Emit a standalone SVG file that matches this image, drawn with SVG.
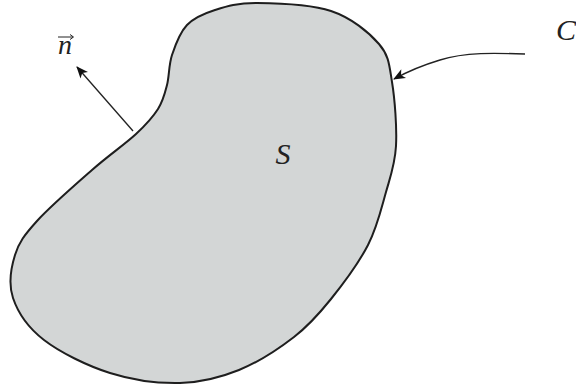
<svg xmlns="http://www.w3.org/2000/svg" width="576" height="385" viewBox="0 0 576 385">
<style>
.lbl{font-family:"Liberation Serif","DejaVu Serif",serif;font-style:italic;fill:#222;}
.conn{fill:none;stroke:#222;stroke-width:1.4;}
</style>
<defs>
<marker id="ah" viewBox="-12 -6 14 12" markerWidth="14" markerHeight="12" refX="0" refY="0" orient="auto" markerUnits="userSpaceOnUse">
<path d="M1,0 L-11,-5 L-8,0 L-11,5 Z" fill="#111"/>
</marker>
</defs>
<rect width="576" height="385" fill="#fff"/>
<g id="region-S">
<path d="M257,3 C276.3,3.2 310.7,4.2 331,11 C351.3,17.8 368.8,32.2 379,44 C389.2,55.8 389.2,65 392,82 C394.8,99 397,127.7 396,146 C395,164.3 390.7,175.5 386,192 C381.3,208.5 377.2,227.2 368,245 C358.8,262.8 343.3,283.7 331,299 C318.7,314.3 309.3,325.2 294,337 C278.7,348.8 258,362.3 239,370 C220,377.7 201.5,382.5 180,383 C158.5,383.5 132.7,380.2 110,373 C87.3,365.8 60.2,352.5 44,340 C27.8,327.5 17.8,312.2 13,298 C8.2,283.8 11,267.8 15,255 C19,242.2 24.2,235.2 37,221 C49.8,206.8 75.5,184.5 92,170 C108.5,155.5 125,144.2 136,134 C147,123.8 152.8,117.2 158,109 C163.2,100.8 164.7,94 167,85 C169.3,76 168.7,65 172,55 C175.3,45 179.8,32.5 187,25 C194.2,17.5 203.3,13.7 215,10 C226.7,6.3 237.7,2.8 257,3 Z" fill="#d3d6d6" stroke="#1e1e1e" stroke-width="2"/>
<text class="lbl" x="283" y="164" font-size="30" text-anchor="middle">S</text>
</g>
<g id="label-n">
<text class="lbl" x="65" y="54" font-size="28" text-anchor="middle">n</text>
<path d="M58,37 L73,37" stroke="#222" stroke-width="1" fill="none"/>
<path d="M70,34.5 L73.5,37 L70,39.5" stroke="#222" stroke-width="1" fill="none"/>
</g>
<g id="label-C">
<text class="lbl" x="556" y="40" font-size="30">C</text>
</g>
<g id="connectors">
<path class="conn" d="M133,131 L77,67" marker-end="url(#ah)"/>
<path class="conn" d="M525,54 C495,53 465,52 440,60 C420,66 405,73 394,79" marker-end="url(#ah)"/>
</g>
</svg>
